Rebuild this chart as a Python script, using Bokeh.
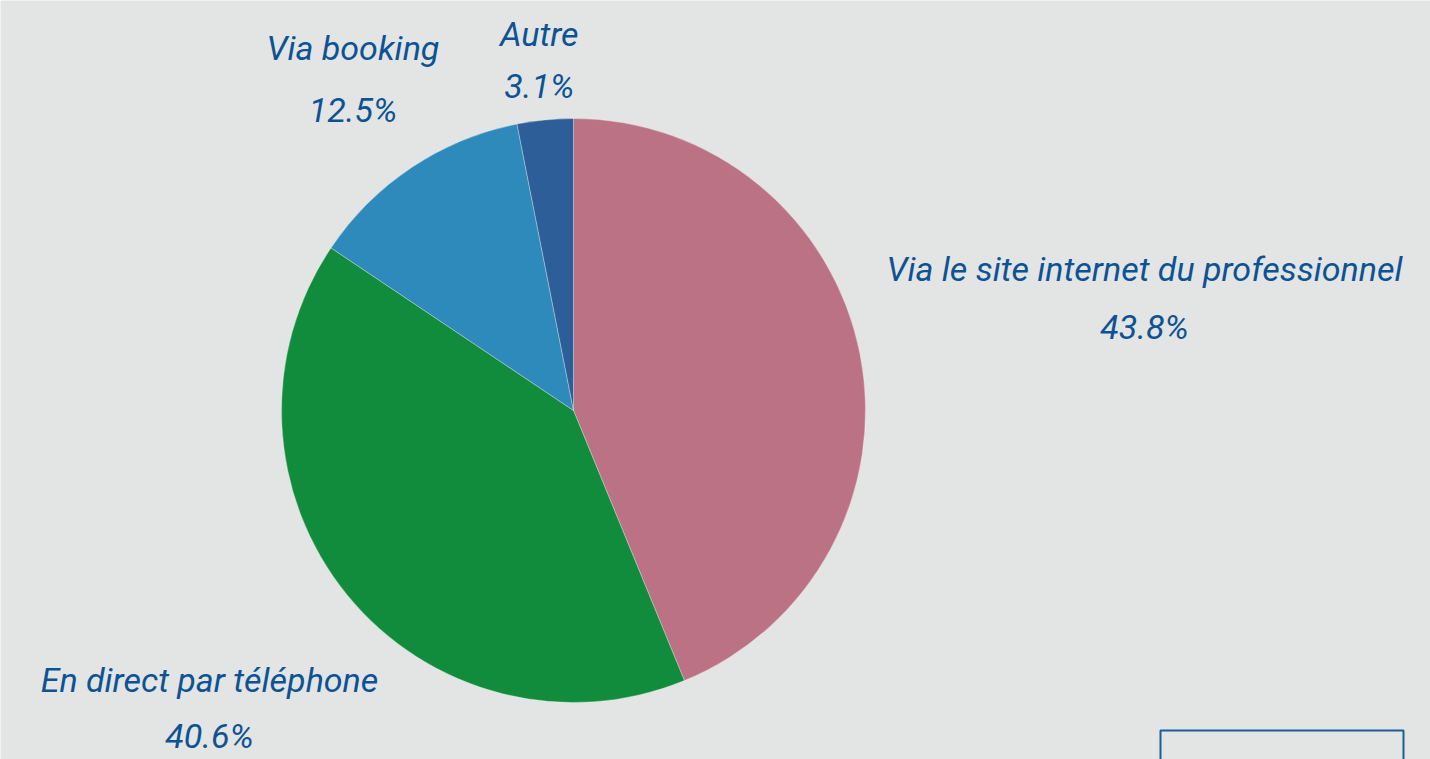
import numpy as np
from bokeh.plotting import figure
from bokeh.models import Range1d, BoxAnnotation, ColumnDataSource
from bokeh.core.properties import value
from bokeh.embed import file_html
from bokeh.resources import INLINE

# ---- data ----
categories = ["Via le site internet du professionnel", "En direct par téléphone", "Via booking", "Autre"]
shares = [43.8, 40.6, 12.5, 3.1]
colors = ["#bb7284", "#118c3d", "#2e8aba", "#2e5e98"]

# ---- layout (label distance from centre along each slice's mid-angle, px) ----
label_dist = [582, 470, 398, 352]
line_gap = [58, 56, 62, 52]

BG = "#e3e5e4"
TXT = "#0d5394"

W, H = 1430, 759
p = figure(width=W, height=H, output_backend="svg", toolbar_location=None,
           x_range=Range1d(0, W), y_range=Range1d(0, H),
           min_border=0, background_fill_color=BG, border_fill_color=BG,
           outline_line_color=None)
p.axis.visible = False
p.grid.visible = False

cx, cy, r = 573, H - 410, 292

vals = np.array(shares)
frac = vals / vals.sum()
ends = np.pi / 2 - 2 * np.pi * np.cumsum(frac)
starts = np.concatenate([[np.pi / 2], ends[:-1]])
src = ColumnDataSource(dict(start=starts, end=ends, color=colors))
p.wedge(x=cx, y=cy, radius=r, start_angle="start", end_angle="end",
        direction="clock", fill_color="color", line_color="white",
        line_width=1, line_alpha=0.3, source=src)

mids = (starts + ends) / 2
lx = cx + np.array(label_dist) * np.cos(mids)
ly = cy + np.array(label_dist) * np.sin(mids)
gap = np.array(line_gap)
name_src = ColumnDataSource(dict(x=lx, y=ly + gap / 2, t=categories))
pct_src = ColumnDataSource(dict(x=lx, y=ly - gap / 2, t=[f"{v}%" for v in shares]))
for s in (name_src, pct_src):
    p.text(x="x", y="y", text="t", source=s, text_align="center",
           text_baseline="middle", text_color=TXT, text_font=value("Roboto"),
           text_font_style="italic", text_font_size="34px")

p.add_layout(BoxAnnotation(left=1160, right=1403, top=H - 730, bottom=-20,
                           fill_color=None, fill_alpha=0, line_color="#1a5f9a",
                           line_alpha=1, line_width=2))

open("out.html", "w").write(file_html(p, INLINE))
